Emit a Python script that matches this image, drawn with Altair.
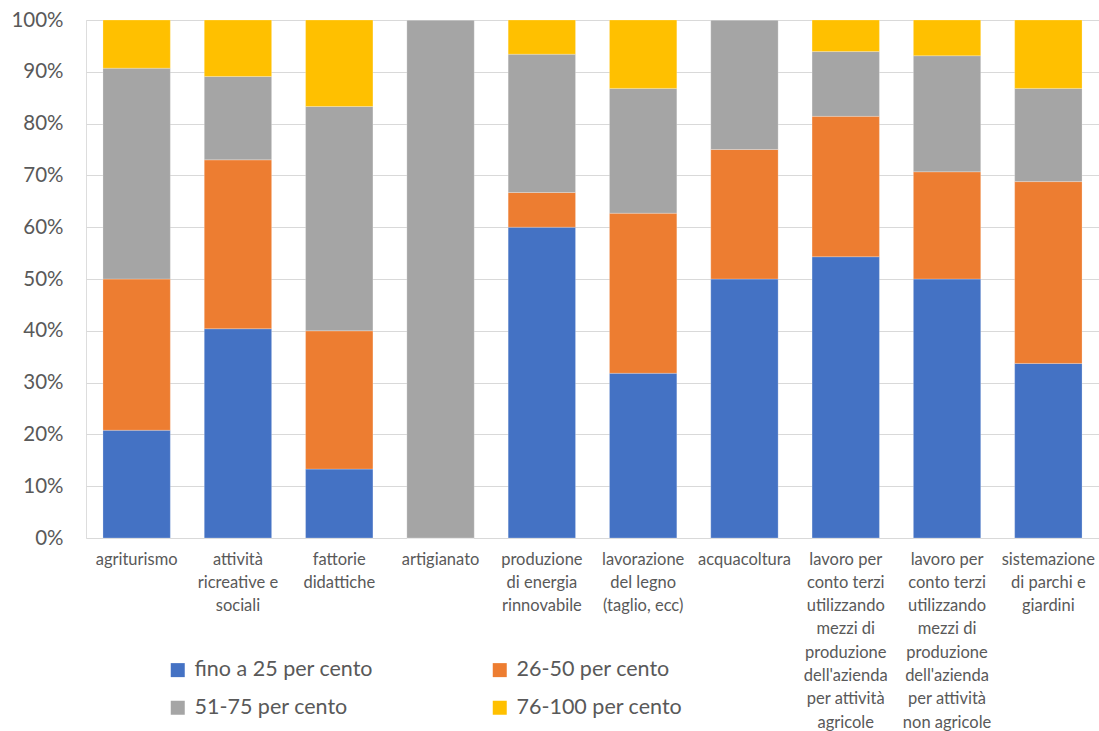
import altair as alt
import pandas as pd

# Activity categories (line breaks mark how each axis label wraps)
categories = [
    "agriturismo",
    "attività\nricreative e\nsociali",
    "fattorie\ndidattiche",
    "artigianato",
    "produzione\ndi energia\nrinnovabile",
    "lavorazione\ndel legno\n(taglio, ecc)",
    "acquacoltura",
    "lavoro per\nconto terzi\nutilizzando\nmezzi di\nproduzione\ndell'azienda\nper attività\nagricole",
    "lavoro per\nconto terzi\nutilizzando\nmezzi di\nproduzione\ndell'azienda\nper attività\nnon agricole",
    "sistemazione\ndi parchi e\ngiardini",
]

series = ["fino a 25 per cento", "26-50 per cento", "51-75 per cento", "76-100 per cento"]

# Share of each class, in percent of the category total
fino_25 = [20.8, 40.4, 13.3, 0.0, 60.0, 31.8, 50.0, 54.3, 50.0, 33.7]
da_26_50 = [29.2, 32.6, 26.7, 0.0, 6.7, 30.9, 25.0, 27.1, 20.7, 35.1]
da_51_75 = [40.7, 16.1, 43.3, 100.0, 26.7, 24.1, 25.0, 12.5, 22.4, 18.0]
da_76_100 = [9.3, 10.9, 16.7, 0.0, 6.6, 13.2, 0.0, 6.1, 6.9, 13.2]

colors = ["#4472C4", "#ED7D31", "#A5A5A5", "#FFC000"]

# The legend grid fills column by column, so list the classes in that order
legend_order = [series[0], series[2], series[1], series[3]]
legend_colors = [colors[0], colors[2], colors[1], colors[3]]

rows = []
for s_idx, (name, vals) in enumerate(zip(series, [fino_25, da_26_50, da_51_75, da_76_100])):
    for cat, v in zip(categories, vals):
        rows.append({"categoria": cat, "classe": name, "ordine": s_idx, "quota": v / 100.0})
df = pd.DataFrame(rows)

font = "Lato"
text_color = "#595959"

chart = (
    alt.Chart(df)
    .mark_bar(stroke="#ffffff", strokeWidth=0.4, strokeOpacity=0.6)
    .encode(
        x=alt.X(
            "categoria:N",
            sort=categories,
            title=None,
            scale=alt.Scale(paddingInner=0.335, paddingOuter=0.1675),
            axis=alt.Axis(
                labelAngle=0,
                labelAlign="center",
                labelBaseline="top",
                labelExpr="split(datum.label, '\\n')",
                labelLineHeight=23.3,
                labelFontSize=16.5,
                labelPadding=13,
                labelColor=text_color,
                labelFont=font,
                labelLimit=200,
                domain=False,
                ticks=False,
            ),
        ),
        y=alt.Y(
            "quota:Q",
            stack="zero",
            title=None,
            scale=alt.Scale(domain=[0, 1], nice=False),
            axis=alt.Axis(
                format=".0%",
                values=[i / 10 for i in range(11)],
                labelFontSize=20.5,
                labelColor=text_color,
                labelFont=font,
                labelPadding=23,
                domain=False,
                ticks=False,
                grid=True,
                gridColor="#D9D9D9",
                gridWidth=1.2,
            ),
        ),
        color=alt.Color(
            "classe:N",
            scale=alt.Scale(domain=legend_order, range=legend_colors),
            legend=alt.Legend(
                title=None,
                orient="none",
                legendX=81,
                legendY=639,
                columns=2,
                columnPadding=116,
                rowPadding=15,
                symbolType="square",
                symbolSize=196,
                symbolStrokeWidth=0,
                symbolOpacity=1,
                labelFontSize=21.5,
                labelColor=text_color,
                labelFont=font,
                labelOffset=6,
                labelLimit=400,
            ),
        ),
        order=alt.Order("ordine:Q", sort="ascending"),
    )
    .properties(
        width=1013,
        height=518,
        autosize=alt.AutoSizeParams(type="none"),
        padding={"left": 86, "top": 20, "right": 0, "bottom": 193},
    )
    .configure_view(stroke=None)
    .configure(background="#ffffff")
)

chart.save("out.html", embed_options={"renderer": "svg", "actions": False})
